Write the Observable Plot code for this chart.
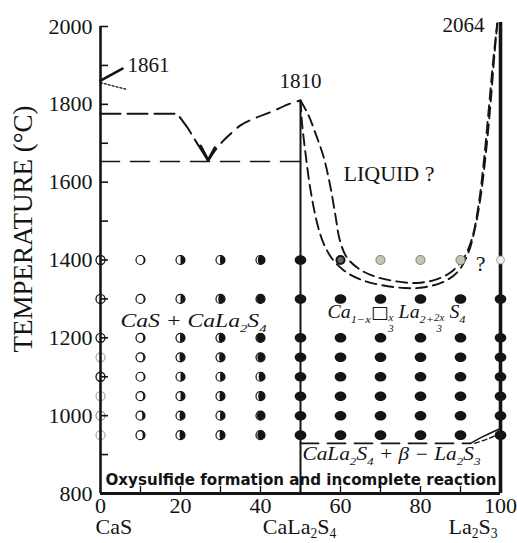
<!DOCTYPE html>
<html><head><meta charset="utf-8">
<script src="https://cdn.jsdelivr.net/npm/d3@7"></script>
<script src="https://cdn.jsdelivr.net/npm/@observablehq/plot@0.6"></script>
<style>
body{margin:0;background:#fff;}
#chart svg{display:block;}
</style></head><body><div id="chart"></div>
<script>
const ink = "#141414";
const serif = "'Liberation Serif','Times New Roman',serif";

// ---------- axes ----------
const yTickLabels = [800, 1000, 1200, 1400, 1600, 1800, 2000];
const yTickMarks = [800, 900, 1000, 1100, 1200, 1300, 1400, 1500, 1600, 1700, 1800, 1900, 2000];
const xTickLabels = [0, 20, 40, 60, 80, 100];
const xTickMarks = [10, 20, 30, 40, 50, 60, 70, 80, 90];
const categories = ["CaS", "CaLa_{2}S_{4}", "La_{2}S_{3}"];
const categoryX = [0, 50, 100];
const yTitle = "TEMPERATURE (°C)";

// ---------- experimental points ----------
const rowsT = [1400, 1300, 1200, 1150, 1100, 1050, 1000, 950];
const casOpacity = [1, 1, 1, 0.35, 1, 0.35, 0.45, 0.35];          // x = 0 column (open circles)
const fill10 = [0.15, 0.15, 0.2, 0.2, 0.15, 0.2, 0.3, 0.25];       // dark fraction of each circle
const fill20 = [0.5, 0.5, 0.55, 0.6, 0.5, 0.5, 0.6, 0.6];
const fill30 = [0.55, 0.75, 0.7, 0.65, 0.55, 0.6, 0.55, 0.6];
const fill40 = [0.8, 0.95, 0.95, 0.85, 0.7, 0.75, 0.9, 0.85];
const solidRows = [1300, 1200, 1150, 1100, 1050, 1000, 950];
const solidCols = [60, 70, 80, 90, 100];
const meltedX = [70, 80, 90];      // grey points at 1400
const crownX = [60];
const faintX = [100];
const topRowT = 1400;

// ---------- phase boundaries ----------
const casMelt = [[0, 1861], [5.5, 1892]];
const casDotted = [[0, 1856], [6.7, 1838]];
const liquidusLeft = [[0, 1776], [19.2, 1776], [21.7, 1741], [24.2, 1699], [26.9, 1656]];
const liquidusMid = [[26.9, 1656], [29.6, 1694], [32.5, 1724], [35, 1746], [38.3, 1763], [42.5, 1780], [48.3, 1805], [50, 1810]];
const eutecticV = [[25.0, 1693], [26.9, 1656], [28.6, 1688]];
const eutectic = [[0, 1653], [50, 1653]];
const curveA = [[50, 1810], [50.4, 1750], [51.3, 1670], [52.5, 1580], [54.2, 1493], [55.8, 1442], [58, 1402], [61, 1372], [65, 1350], [70, 1336], [76, 1328], [81, 1330], [86, 1345], [89.5, 1372], [92, 1420], [93.6, 1480], [95, 1560], [96.4, 1680], [97.5, 1800], [98.5, 1930], [99.2, 2008]];
const curveB = [[50, 1810], [52, 1772], [53.8, 1724], [55.8, 1664], [57.5, 1587], [58.8, 1510], [59.8, 1452], [61.5, 1408], [64.5, 1378], [68.5, 1358], [74, 1345], [79, 1341], [84, 1350], [88, 1372], [91, 1408], [93, 1460], [94.5, 1540], [95.8, 1650], [97, 1780], [98.2, 1915], [99.2, 2008]];
const eutectoid = [[50, 929], [92.5, 929]];
const branchSolid = [[92.5, 929], [96, 948], [100, 967]];
const branchDashed = [[93.5, 929], [96.5, 939], [100, 955]];
const caLa2S4Melt = 1810, la2S3Melt = 2010, baseT = 800, topT = 2000;

// ---------- labels ----------
const peakLabels = ["1861", "1810", "2064"];
const peakLabelX = [6.75, 44.75, 85.5];
const peakLabelT = [1882, 1841, 1985];
const regionLabels = ["LIQUID ?", "?"];
const regionLabelX = [60.75, 93.8];
const regionLabelT = [1604, 1373];
const phaseLabels = ["CaS + CaLa_{2}S_{4}", "Ca_{1−x}□~{x|3} La_{2+}~{2x|3} S_{4}", "CaLa_{2}S_{4} + β − La_{2}S_{3}"];
const phaseLabelX = [5, 56.75, 50.5];
const phaseLabelT = [1227, 1250, 885];
const phaseLabelW = [146, 138, 178];
const noteLabel = "Oxysulfide formation and incomplete reaction";
const noteX = 1.25, noteT = 821, noteW = 391;

// ---------- build tables ----------
const pairs = a => a.map(([x, T]) => ({x, T}));
const leftFill = {10: fill10, 20: fill20, 30: fill30, 40: fill40};
const partial = [];
for (const c of [10, 20, 30, 40]) rowsT.forEach((T, i) => partial.push({x: c, T, f: leftFill[c][i]}));
const casPts = rowsT.map((T, i) => ({x: 0, T, o: casOpacity[i]}));
const solid = rowsT.map(T => ({x: 50, T}));
for (const c of solidCols) solidRows.forEach(T => solid.push({x: c, T}));
const melted = meltedX.map(x => ({x, T: topRowT}));
const crown = crownX.map(x => ({x, T: topRowT}));
const faint = faintX.map(x => ({x, T: topRowT}));

function phase(f) {
  return {draw(ctx, size) {
    const r = Math.sqrt(size / Math.PI), k = 0.5523;
    const rx = r * Math.abs(1 - 2 * f), s = f < 0.5 ? 1 : -1;
    ctx.moveTo(0, -r);
    ctx.arc(0, 0, r, -Math.PI / 2, Math.PI / 2);
    ctx.bezierCurveTo(s * k * rx, r, s * rx, k * r, s * rx, 0);
    ctx.bezierCurveTo(s * rx, -k * r, s * k * rx, -r, 0, -r);
    ctx.closePath();
  }};
}
const ellipse = {draw(ctx, size) {
  const r = Math.sqrt(size / Math.PI), a = r * 1.12, b = r * 0.92, k = 0.5523;
  ctx.moveTo(a, 0);
  ctx.bezierCurveTo(a, k * b, k * a, b, 0, b);
  ctx.bezierCurveTo(-k * a, b, -a, k * b, -a, 0);
  ctx.bezierCurveTo(-a, -k * b, -k * a, -b, 0, -b);
  ctx.bezierCurveTo(k * a, -b, a, -k * b, a, 0);
  ctx.closePath();
}};

const L = (data, opts) => Plot.line(pairs(data), {x: "x", y: "T", stroke: ink, curve: "catmull-rom", ...opts});
const txt = (labels, xs, ts, opts) => Plot.text(labels.map((t, i) => ({t, x: xs[i], T: ts[i]})), {x: "x", y: "T", text: "t", textAnchor: "start", lineAnchor: "bottom", fill: ink, ...opts});
const catData = categories.map((t, i) => ({t, x: categoryX[i]}));

const chart = Plot.plot({
  width: 517, height: 543,
  marginLeft: 100, marginRight: 17, marginTop: 26, marginBottom: 50,
  x: {domain: [0, 100]},
  y: {domain: [baseT, topT]},
  style: {fontFamily: serif, color: ink, background: "#fff", overflow: "visible"},
  marks: [
    Plot.axisY(yTickLabels, {tickSize: 0, tickPadding: 8, fontSize: 22, label: null, fill: ink, tickFormat: d3.format("d")}),
    Plot.axisX(xTickLabels, {tickSize: 0, tickPadding: 4, fontSize: 22, label: null, fill: ink, tickFormat: d3.format("d")}),
    Plot.text([yTitle], {frameAnchor: "left", textAnchor: "middle", lineAnchor: "middle", rotate: -90, dx: -77, dy: -31, fontSize: 27, fill: ink}),
    Plot.text(catData.slice(0, 1), {x: "x", text: "t", frameAnchor: "bottom", dy: 40, lineAnchor: "bottom", textAnchor: "start", dx: -5, fontSize: 22, fill: ink}),
    Plot.text(catData.slice(1, 2), {x: "x", text: "t", frameAnchor: "bottom", dy: 40, lineAnchor: "bottom", textAnchor: "middle", dx: -1, fontSize: 22, fill: ink}),
    Plot.text(catData.slice(2, 3), {x: "x", text: "t", frameAnchor: "bottom", dy: 40, lineAnchor: "bottom", textAnchor: "end", dx: -3, fontSize: 22, fill: ink}),
    // frame lines and ticks
    Plot.ruleY(yTickMarks, {x1: 0, x2: 2, stroke: ink, strokeWidth: 1.6}),
    Plot.ruleX(xTickMarks, {y1: baseT, y2: baseT + 18, stroke: ink, strokeWidth: 1.4}),
    Plot.ruleX([0], {y1: baseT, y2: topT, stroke: ink, strokeWidth: 2.6}),
    Plot.ruleY([baseT], {x1: 0, x2: 100, stroke: ink, strokeWidth: 3}),
    Plot.ruleX([50], {y1: baseT, y2: caLa2S4Melt, stroke: ink, strokeWidth: 2}),
    Plot.ruleX([100], {y1: baseT, y2: la2S3Melt, stroke: ink, strokeWidth: 3.6}),
    // phase boundaries
    L(casMelt, {strokeWidth: 2.6, curve: "linear"}),
    L(casDotted, {strokeWidth: 1.3, strokeDasharray: "2,2", curve: "linear"}),
    L(liquidusLeft, {strokeWidth: 2, strokeDasharray: "20,7", curve: "linear"}),
    L(liquidusMid, {strokeWidth: 2, strokeDasharray: "14,8", curve: "monotone-x"}),
    L(eutecticV, {strokeWidth: 3, curve: "linear"}),
    L(eutectic, {strokeWidth: 1.6, strokeDasharray: "19,11", curve: "linear"}),
    L(curveA, {strokeWidth: 1.9, strokeDasharray: "11,6"}),
    L(curveB, {strokeWidth: 1.9, strokeDasharray: "11,6"}),
    L(eutectoid, {strokeWidth: 1.8, strokeDasharray: "18,9", curve: "linear"}),
    L(branchSolid, {strokeWidth: 1.5}),
    L(branchDashed, {strokeWidth: 1.3, strokeDasharray: "5,3"}),
    // experimental points
    Plot.dot(casPts, {x: "x", y: "T", r: 4.5, fill: "none", stroke: ink, strokeWidth: 1.3, strokeOpacity: "o"}),
    Plot.dot(partial, {x: "x", y: "T", r: 4.5, fill: "#fff", stroke: ink, strokeWidth: 1.2}),
    ...d3.groups(partial, d => d.f).map(([f, pts]) =>
      Plot.dot(pts, {x: "x", y: "T", r: 4.5, symbol: phase(f), fill: ink, stroke: "none"})),
    Plot.dot(solid, {x: "x", y: "T", r: 5.2, symbol: ellipse, fill: ink, stroke: "none"}),
    Plot.dot(melted, {x: "x", y: "T", r: 4.5, fill: "#c4c3b8", stroke: "#8d8c84", strokeWidth: 1.2}),
    Plot.dot(crown, {x: "x", y: "T", r: 4, fill: "#666", stroke: ink, strokeWidth: 2}),
    Plot.dot(faint, {x: "x", y: "T", r: 4, fill: "#eee", stroke: "#aaa", strokeWidth: 1}),
    // labels
    txt(peakLabels, peakLabelX, peakLabelT, {fontSize: 21}),
    txt(regionLabels, regionLabelX, regionLabelT, {fontSize: 22}),
    txt(phaseLabels, phaseLabelX, phaseLabelT, {fontSize: 18, fontStyle: "italic"}),
    Plot.text([noteLabel], {x: () => noteX, y: () => noteT, textAnchor: "start", lineAnchor: "bottom", fontSize: 16, fontWeight: 600, fontFamily: "'DejaVu Sans',Verdana,sans-serif", fill: ink})
  ]
});
document.getElementById("chart").appendChild(chart);

// rich text: _{sub}, ~{num|den}, and a bold box glyph
const NS = "http://www.w3.org/2000/svg";
const widths = new Map(phaseLabels.map((t, i) => [t, phaseLabelW[i]]));
widths.set(noteLabel, noteW);
chart.querySelectorAll("text").forEach(t => {
  const s = t.textContent;
  const w = widths.get(s);
  if (/[_~]\{/.test(s)) {
    const fs = parseFloat(getComputedStyle(t).fontSize) || 16;
    const subOff = fs > 20 ? 0.22 : 0.28;
    const parts = s.split(/([_~]\{[^}]*\}|□)/).filter(p => p.length);
    while (t.firstChild) t.removeChild(t.firstChild);
    let cur = 0, pend = 0;
    const add = (str, off, size, dx) => {
      const ts = document.createElementNS(NS, "tspan");
      ts.setAttribute("dy", (off - cur).toFixed(2)); cur = off;
      if (size) ts.setAttribute("font-size", size.toFixed(1));
      const d = (dx || 0) + pend; pend = 0;
      if (d) ts.setAttribute("dx", d.toFixed(2));
      ts.textContent = str; t.appendChild(ts); return ts;
    };
    for (const p of parts) {
      if (p.startsWith("_{")) add(p.slice(2, -1), subOff * fs, 0.62 * fs);
      else if (p === "□") {
        const b = add(p, 0, 0.95 * fs);
        b.setAttribute("font-family", "'DejaVu Sans',sans-serif");
        b.setAttribute("font-weight", "bold");
        b.setAttribute("font-style", "normal");
      } else if (p.startsWith("~{")) {
        const [num, den] = p.slice(2, -1).split("|");
        const a = add(num, 0.12 * fs, 0.55 * fs);
        const wa = a.getComputedTextLength();
        const b = add(den, 0.75 * fs, 0.55 * fs, -wa);
        const wb = b.getComputedTextLength();
        b.setAttribute("dx", (-(wa + wb) / 2).toFixed(2));
        if (wa > wb) pend = (wa - wb) / 2;
      } else add(p, 0, null);
    }
  }
  if (w) { t.setAttribute("textLength", w); t.setAttribute("lengthAdjust", "spacingAndGlyphs"); }
});
</script></body></html>
